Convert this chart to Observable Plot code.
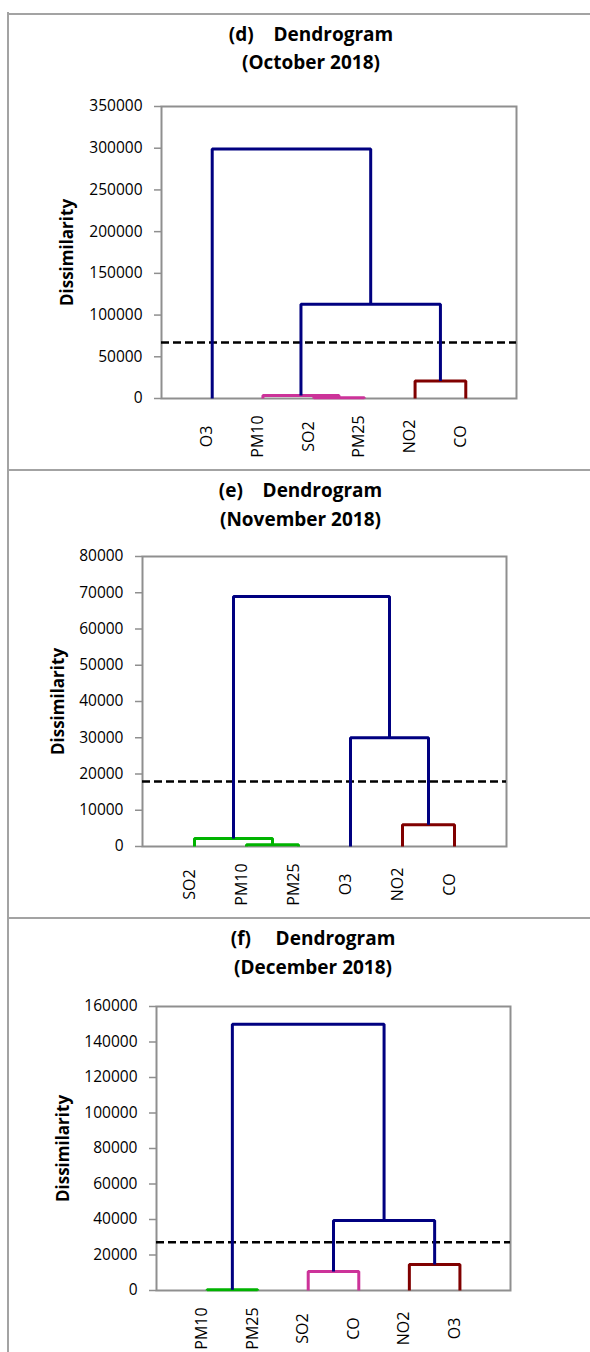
<!DOCTYPE html>
<html>
<head>
<meta charset="utf-8">
<script src="https://cdn.jsdelivr.net/npm/d3@7"></script>
<script src="https://cdn.jsdelivr.net/npm/@observablehq/plot@0.6"></script>
<style>
  html, body { margin: 0; padding: 0; background: #fff; }
  #page { position: relative; width: 590px; height: 1352px; overflow: hidden; background: #fff; font-family: "Open Sans", sans-serif; }
  .hline { position: absolute; left: 7px; right: 0; height: 2px; background: #a3a3a3; }
  .vline { position: absolute; top: 12px; bottom: 0; left: 7px; width: 2px; background: #a3a3a3; }
  .title { position: absolute; width: 400px; height: 28px; line-height: 28px; text-align: center; font-weight: bold; font-size: 19px; color: #000; white-space: pre; }
  .panel { position: absolute; left: 0; }
</style>
</head>
<body>
<div id="page"></div>
<script>
// ---------- data ----------
const NAVY = "#000080", MAROON = "#800000", PINK = "#CC3399", GREEN = "#00B300";

// (d) October 2018
const leavesD = ["O3", "PM10", "SO2", "PM25", "NO2", "CO"];
const mergeLeftD = [2, 1, 4, 7, 0];
const mergeRightD = [3, 6, 5, 8, 9];
const mergeHeightD = [1000, 3700, 21000, 113000, 299000];
const mergeColorD = [PINK, PINK, MAROON, NAVY, NAVY];
const cutD = 67000;
const yTicksD = [0, 50000, 100000, 150000, 200000, 250000, 300000, 350000];

// (e) November 2018
const leavesE = ["SO2", "PM10", "PM25", "O3", "NO2", "CO"];
const mergeLeftE = [1, 0, 4, 3, 7];
const mergeRightE = [2, 6, 5, 8, 9];
const mergeHeightE = [500, 2200, 6000, 30000, 69000];
const mergeColorE = [GREEN, GREEN, MAROON, NAVY, NAVY];
const cutE = 17900;
const yTicksE = [0, 10000, 20000, 30000, 40000, 50000, 60000, 70000, 80000];

// (f) December 2018
const leavesF = ["PM10", "PM25", "SO2", "CO", "NO2", "O3"];
const mergeLeftF = [0, 2, 4, 7, 6];
const mergeRightF = [1, 3, 5, 8, 9];
const mergeHeightF = [400, 10700, 14700, 39500, 150000];
const mergeColorF = [GREEN, PINK, MAROON, NAVY, NAVY];
const cutF = 27200;
const yTicksF = [0, 20000, 40000, 60000, 80000, 100000, 120000, 140000, 160000];

const titlesD = ["(d)    Dendrogram", "(October 2018)"];
const titlesE = ["(e)    Dendrogram", "(November 2018)"];
const titlesF = ["(f)     Dendrogram", "(December 2018)"];

// ---------- helpers ----------
function linkPoints(leaves, L, R, H, C) {
  const nodes = leaves.map((d, i) => ({x: i + 1, y: 0}));
  const pts = [];
  L.forEach((l, k) => {
    const a = nodes[l], b = nodes[R[k]], h = H[k], c = C[k];
    pts.push({id: k, x: a.x, y: a.y, c}, {id: k, x: a.x, y: h, c},
             {id: k, x: b.x, y: h, c}, {id: k, x: b.x, y: b.y, c});
    nodes.push({x: (a.x + b.x) / 2, y: h});
  });
  return pts;
}

const page = document.getElementById("page");

function addTitle(lines, cx, cy1, cy2) {
  [cy1, cy2].forEach((cy, i) => {
    const t = document.createElement("div");
    t.className = "title";
    t.style.left = (cx - 200) + "px";
    t.style.top = (cy - 14) + "px";
    t.textContent = lines[i];
    page.appendChild(t);
  });
}

function makePanel(cfg) {
  const pts = linkPoints(cfg.leaves, cfg.L, cfg.R, cfg.H, cfg.C);
  const chart = Plot.plot({
    width: 590,
    height: cfg.height,
    marginLeft: cfg.ml, marginRight: cfg.mr, marginTop: cfg.mt, marginBottom: cfg.mb,
    x: {domain: [0, cfg.leaves.length + 1], axis: null},
    y: {domain: [0, cfg.yTicks[cfg.yTicks.length - 1]], axis: null},
    color: {type: "identity"},
    style: {fontFamily: "Open Sans", fontSize: "15.5px", color: "#000", background: "transparent", overflow: "visible"},
    marks: [
      Plot.frame({stroke: "#8f8f8f", strokeWidth: 2}),
      Plot.axisY(cfg.yTicks, {tickSize: 7, tickPadding: 12, tickFormat: d3.format("d"), label: null,
        stroke: "#8f8f8f", strokeWidth: 1.5, fill: "#000", fontSize: 15.5}),
      Plot.ruleY([cfg.cut], {stroke: "#000", strokeWidth: 2.5, strokeDasharray: "8,4"}),
      Plot.line(pts, {x: "x", y: "y", z: "id", stroke: "c", strokeWidth: 3,
        strokeLinejoin: "miter", strokeLinecap: "butt", curve: "linear"}),
      Plot.text(cfg.leaves, {x: (d, i) => i + 1, frameAnchor: "bottom", dy: 38, rotate: -90,
        text: d => d, textAnchor: "middle", fill: "#000", fontSize: 16}),
      Plot.text(["Dissimilarity"], {frameAnchor: "left", dx: cfg.labelDx, rotate: -90,
        text: d => d, textAnchor: "middle", fontWeight: "bold", fontSize: 17, fill: "#000"})
    ]
  });
  chart.classList.add("panel");
  chart.style.top = cfg.top + "px";
  page.appendChild(chart);
}

// ---------- borders ----------
[12.5, 468.5, 916.5].forEach(y => {
  const h = document.createElement("div");
  h.className = "hline";
  h.style.top = y + "px";
  page.appendChild(h);
});
const v = document.createElement("div");
v.className = "vline";
page.appendChild(v);

// ---------- panels ----------
addTitle(titlesD, 311, 33.5, 62);
makePanel({leaves: leavesD, L: mergeLeftD, R: mergeRightD, H: mergeHeightD, C: mergeColorD,
  cut: cutD, yTicks: yTicksD, top: 80, height: 389, ml: 161, mr: 74, mt: 26, mb: 71, labelDx: -94});

addTitle(titlesE, 300.5, 489.5, 519);
makePanel({leaves: leavesE, L: mergeLeftE, R: mergeRightE, H: mergeHeightE, C: mergeColorE,
  cut: cutE, yTicks: yTicksE, top: 530, height: 387, ml: 142, mr: 84, mt: 26, mb: 71, labelDx: -84});

addTitle(titlesF, 313, 937.5, 967);
makePanel({leaves: leavesF, L: mergeLeftF, R: mergeRightF, H: mergeHeightF, C: mergeColorF,
  cut: cutF, yTicks: yTicksF, top: 980, height: 372, ml: 156, mr: 80, mt: 26, mb: 62, labelDx: -93});
</script>
</body>
</html>
